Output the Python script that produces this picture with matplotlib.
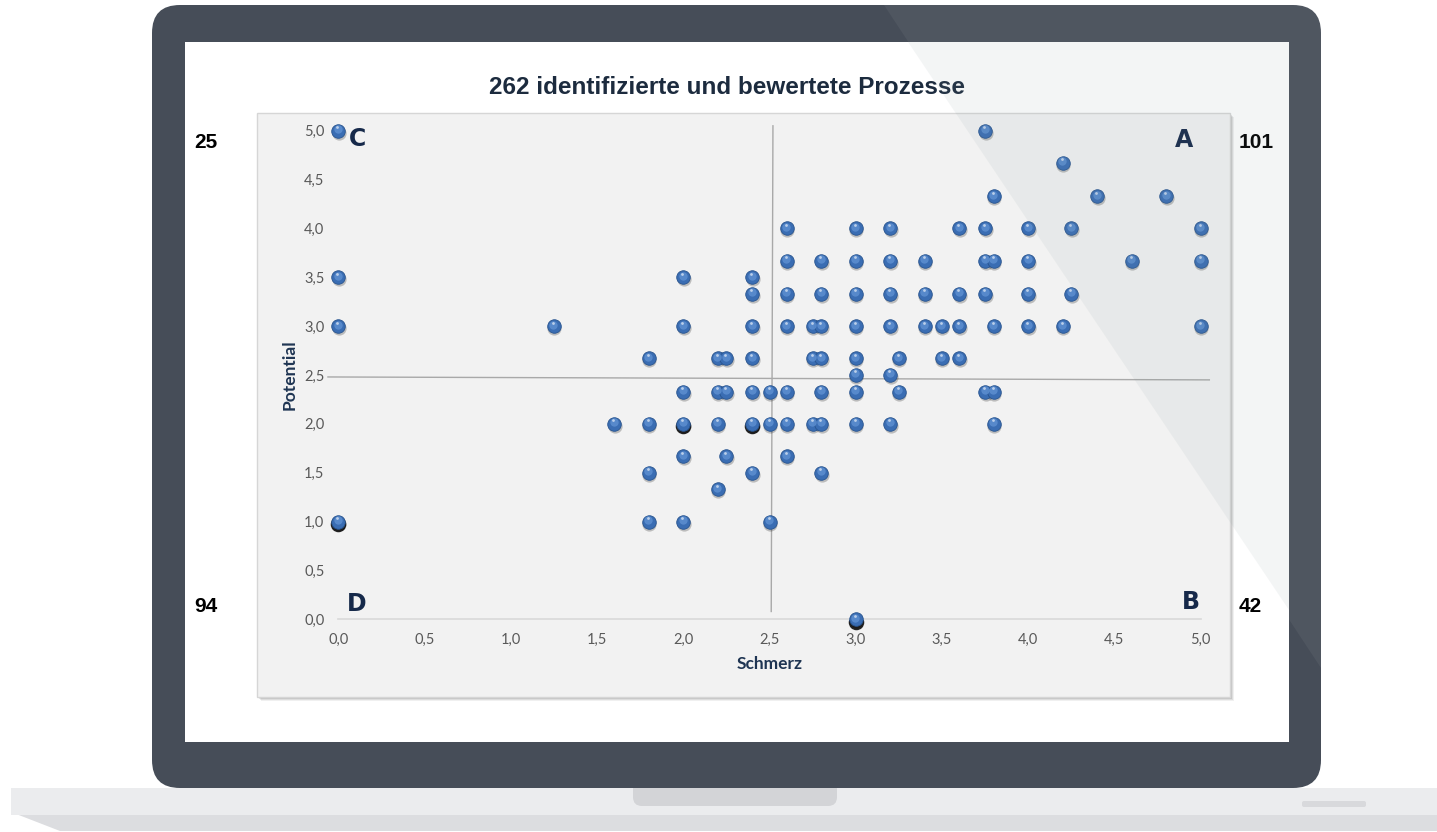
import matplotlib
matplotlib.use("Agg")
import matplotlib.pyplot as plt
import matplotlib.transforms as mtransforms
from matplotlib.patches import Rectangle, FancyBboxPatch, Polygon
from matplotlib.ticker import FuncFormatter, MultipleLocator

# === DATA (Schmerz / Potential per process) ===
schmerz = [
    0.0, 0.0, 0.0, 1.25, 2.0, 2.0, 2.4, 2.4, 2.4, 1.8, 2.2, 2.25, 2.4,          # C
    3.75, 4.2, 3.8, 4.4, 4.8,                                                   # A top
    2.6, 3.0, 3.2, 3.6, 3.75, 4.0, 4.25, 5.0,
    2.6, 2.8, 3.0, 3.2, 3.4, 3.75, 3.8, 4.0, 4.6, 5.0,
    2.6, 2.8, 3.0, 3.2, 3.4, 3.6, 3.75, 4.0, 4.25,
    2.6, 2.75, 2.8, 3.0, 3.2, 3.4, 3.5, 3.6, 3.8, 4.0, 4.2, 5.0,
    2.75, 2.8, 3.0, 3.25, 3.5, 3.6,
    3.0, 3.2,
    2.0, 2.2, 2.25, 2.4,                                                        # D
    1.6, 1.8, 2.0, 2.2, 2.4,
    2.0, 2.25, 1.8, 2.4, 2.2,
    0.0, 1.8, 2.0,
    2.5, 2.6, 2.8, 3.0, 3.25, 3.75, 3.8,                                        # B
    2.5, 2.6, 2.75, 2.8, 3.0, 3.2, 3.8,
    2.6, 2.8, 2.5, 3.0,
]
potential = [
    5.0, 3.5, 3.0, 3.0, 3.5, 3.0, 3.5, 3.33, 3.0, 2.67, 2.67, 2.67, 2.67,
    5.0, 4.67, 4.33, 4.33, 4.33,
    4.0, 4.0, 4.0, 4.0, 4.0, 4.0, 4.0, 4.0,
    3.67, 3.67, 3.67, 3.67, 3.67, 3.67, 3.67, 3.67, 3.67, 3.67,
    3.33, 3.33, 3.33, 3.33, 3.33, 3.33, 3.33, 3.33, 3.33,
    3.0, 3.0, 3.0, 3.0, 3.0, 3.0, 3.0, 3.0, 3.0, 3.0, 3.0, 3.0,
    2.67, 2.67, 2.67, 2.67, 2.67, 2.67,
    2.5, 2.5,
    2.33, 2.33, 2.33, 2.33,
    2.0, 2.0, 2.0, 2.0, 2.0,
    1.67, 1.67, 1.5, 1.5, 1.33,
    1.0, 1.0, 1.0,
    2.33, 2.33, 2.33, 2.33, 2.33, 2.33, 2.33,
    2.0, 2.0, 2.0, 2.0, 2.0, 2.0, 2.0,
    1.67, 1.5, 1.0, 0.0,
]

# points where many processes sit on top of each other (dark shadow in Excel)
stacked_x = [0.0, 2.0, 2.4, 3.0]
stacked_y = [1.0, 2.0, 2.0, 0.0]

quadrants = ["C", "A", "D", "B"]
quadrant_counts = ["25", "101", "94", "42"]
title = "262 identifizierte und bewertete Prozesse"

W, H = 1437, 832
fig = plt.figure(figsize=(W / 100, H / 100), dpi=100)
fig.patch.set_facecolor("white")

# === LAPTOP FRAME ===
bg = fig.add_axes([0, 0, 1, 1], zorder=0)
bg.set_xlim(0, W)
bg.set_ylim(H, 0)
bg.axis("off")

bg.add_patch(Polygon([(11, 788), (W, 788), (W, 831), (60, 831), (11, 812)], closed=True,
                     color="#dcdde0", lw=0))
bg.add_patch(Rectangle((11, 788), W - 11, 27, color="#ebecee", lw=0))
bg.add_patch(FancyBboxPatch((633, 776), 204, 30, boxstyle="round,pad=0,rounding_size=9",
                            color="#d3d4d7", lw=0))
bg.add_patch(FancyBboxPatch((1302, 801), 64, 6, boxstyle="round,pad=0,rounding_size=2",
                            color="#d8d9dc", lw=0))

bg.add_patch(FancyBboxPatch((152, 5), 1169, 783, boxstyle="round,pad=0,rounding_size=28",
                            color="#464d58", lw=0))
bg.add_patch(Polygon([(884, 5), (1321, 5), (1321, 668)], closed=True,
                     color="white", alpha=0.05, lw=0))
bg.add_patch(Rectangle((185, 42), 1104, 700, color="white", lw=0))

# chart panel with soft shadow
for off, a in [(4, 0.06), (3, 0.08), (2, 0.10)]:
    bg.add_patch(Rectangle((257 + off, 113 + off), 973, 584, color="black", alpha=a, lw=0))
bg.add_patch(Rectangle((257, 113), 973, 584, facecolor="#f2f2f2", edgecolor="#d6d6d6", lw=1))

bg.text(727, 88, title, ha="center", va="center", fontsize=17.5, fontweight="bold",
        family="Liberation Sans", color="#1c2b3e")

letter_pos = [(357, 139), (1184, 140), (357, 604), (1191, 602)]
count_pos = [(206, 143), (1256, 143), (206, 606), (1250, 606)]
for q, (lx, ly) in zip(quadrants, letter_pos):
    bg.text(lx, ly, q, ha="center", va="center", fontsize=17, fontweight="bold",
            family="DejaVu Sans", color="#16294a", zorder=5)
for c, (cx, cy) in zip(quadrant_counts, count_pos):
    bg.text(cx, cy, c, ha="center", va="center", fontsize=15, fontweight="bold",
            family="Liberation Sans", color="black")

# === SCATTER ===
x0, x1, y0, y1 = 338.3, 1200.7, 619.3, 130.7
ax = fig.add_axes([x0 / W, (H - y0) / H, (x1 - x0) / W, (y0 - y1) / H], zorder=1)
ax.patch.set_alpha(0)
ax.set_xlim(0, 5)
ax.set_ylim(0, 5)
for s in ["top", "right", "left"]:
    ax.spines[s].set_visible(False)
ax.spines["bottom"].set_color("#d9d9d9")
ax.spines["bottom"].set_linewidth(1.2)
ax.xaxis.set_major_locator(MultipleLocator(0.5))
ax.yaxis.set_major_locator(MultipleLocator(0.5))
fmt = FuncFormatter(lambda v, p: f"{v:.1f}".replace(".", ","))
ax.xaxis.set_major_formatter(fmt)
ax.yaxis.set_major_formatter(fmt)
ax.tick_params(length=0, labelsize=10.5, labelcolor="#595959")
ax.tick_params(axis="x", pad=10)
ax.tick_params(axis="y", pad=10)
for lab in ax.get_xticklabels() + ax.get_yticklabels():
    lab.set_family("Lato")

ax.set_xlabel("Schmerz", fontsize=12.5, fontweight="bold", color="#1f3553", family="Lato",
              va="center")
ax.xaxis.set_label_coords(0.5, -0.0915)
ax.set_ylabel("Potential", fontsize=12.5, fontweight="bold", color="#1f3553", family="Lato",
              va="center")
ax.yaxis.set_label_coords(-0.056, 0.5)

# quadrant divider lines (drawn slightly skewed like the original)
ax.plot([2.52, 2.51], [5.05, 0.08], color="#a9a9a9", lw=1, clip_on=False, zorder=1)
ax.plot([-0.06, 5.05], [2.48, 2.45], color="#a9a9a9", lw=1, clip_on=False, zorder=1)

def shifted(dx, dy):
    return mtransforms.offset_copy(ax.transData, fig=fig, x=dx, y=dy, units="dots")

ax.scatter(stacked_x, stacked_y, s=125, color="black", alpha=0.85, lw=0,
           transform=shifted(0, -2.5), clip_on=False, zorder=2)
ax.scatter(schmerz, potential, s=105, color="black", alpha=0.22, lw=0,
           transform=shifted(0.5, -2), clip_on=False, zorder=2)
ax.scatter(schmerz, potential, s=95, color="#3a6db3", edgecolor="#28548f", lw=0.6,
           clip_on=False, zorder=3)
ax.scatter(schmerz, potential, s=36, color="#5f91d2", alpha=0.8, lw=0,
           transform=shifted(-0.5, 1.5), clip_on=False, zorder=4)
ax.scatter(schmerz, potential, s=4, color="white", alpha=0.6, lw=0,
           transform=shifted(-1, 3.5), clip_on=False, zorder=5)

# === SCREEN GLARE ===
ov = fig.add_axes([0, 0, 1, 1], zorder=2)
ov.set_xlim(0, W)
ov.set_ylim(H, 0)
ov.axis("off")
ov.patch.set_alpha(0)
ov.add_patch(Polygon([(908, 42), (1289, 42), (1289, 610)], closed=True,
                     color="#80969a", alpha=0.09, lw=0))

fig.savefig("out.png", dpi=100)
